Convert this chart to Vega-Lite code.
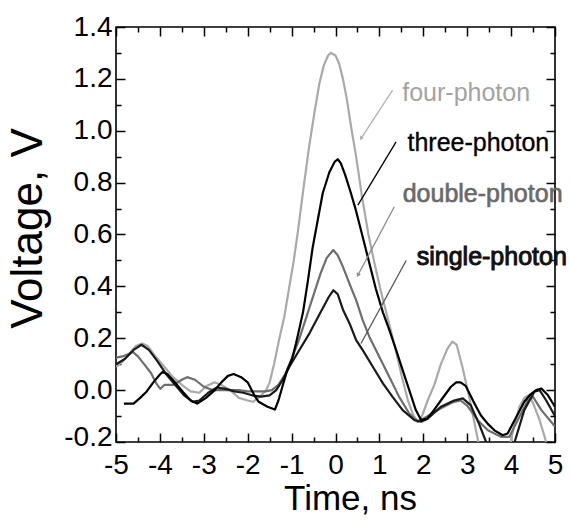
{
  "$schema": "https://vega.github.io/schema/vega-lite/v6.json",
  "width": 439,
  "height": 415,
  "autosize": {"type": "none"},
  "padding": {"left": 116, "top": 27, "right": 15, "bottom": 78},
  "background": "white",
  "view": {"stroke": "black", "strokeWidth": 1.6},
  "datasets": {
    "curves": [
      {"s":"four","t":-5,"v":0.09},{"s":"four","t":-4.85,"v":0.11},{"s":"four","t":-4.7,"v":0.14},{"s":"four","t":-4.55,"v":0.17},{"s":"four","t":-4.4,"v":0.18},{"s":"four","t":-4.28,"v":0.17},{"s":"four","t":-4.1,"v":0.13},{"s":"four","t":-3.9,"v":0.09},{"s":"four","t":-3.7,"v":0.05},{"s":"four","t":-3.5,"v":0.02},{"s":"four","t":-3.3,"v":-0.005},{"s":"four","t":-3.1,"v":-0.01},{"s":"four","t":-2.95,"v":0.015},{"s":"four","t":-2.75,"v":0.03},{"s":"four","t":-2.6,"v":0.02},{"s":"four","t":-2.4,"v":0.0},{"s":"four","t":-2.2,"v":-0.03},{"s":"four","t":-2.0,"v":-0.04},{"s":"four","t":-1.88,"v":-0.045},{"s":"four","t":-1.72,"v":-0.025},{"s":"four","t":-1.58,"v":0.0},{"s":"four","t":-1.5,"v":0.03},{"s":"four","t":-1.4,"v":0.1},{"s":"four","t":-1.29,"v":0.19},{"s":"four","t":-1.17,"v":0.28},{"s":"four","t":-1.05,"v":0.4},{"s":"four","t":-0.95,"v":0.5},{"s":"four","t":-0.85,"v":0.62},{"s":"four","t":-0.72,"v":0.79},{"s":"four","t":-0.6,"v":0.94},{"s":"four","t":-0.48,"v":1.07},{"s":"four","t":-0.37,"v":1.18},{"s":"four","t":-0.27,"v":1.25},{"s":"four","t":-0.17,"v":1.29},{"s":"four","t":-0.1,"v":1.3},{"s":"four","t":0.0,"v":1.29},{"s":"four","t":0.08,"v":1.26},{"s":"four","t":0.17,"v":1.2},{"s":"four","t":0.26,"v":1.12},{"s":"four","t":0.36,"v":1.01},{"s":"four","t":0.47,"v":0.9},{"s":"four","t":0.6,"v":0.75},{"s":"four","t":0.75,"v":0.6},{"s":"four","t":0.9,"v":0.48},{"s":"four","t":1.05,"v":0.37},{"s":"four","t":1.2,"v":0.27},{"s":"four","t":1.35,"v":0.17},{"s":"four","t":1.5,"v":0.06},{"s":"four","t":1.65,"v":-0.04},{"s":"four","t":1.78,"v":-0.1},{"s":"four","t":1.88,"v":-0.12},{"s":"four","t":1.97,"v":-0.1},{"s":"four","t":2.1,"v":-0.04},{"s":"four","t":2.25,"v":0.02},{"s":"four","t":2.4,"v":0.1},{"s":"four","t":2.55,"v":0.16},{"s":"four","t":2.66,"v":0.187},{"s":"four","t":2.76,"v":0.175},{"s":"four","t":2.89,"v":0.09},{"s":"four","t":3.05,"v":-0.03},{"s":"four","t":3.2,"v":-0.155},{"s":"four","t":3.3,"v":-0.24},{"s":"four","t":3.5,"v":-0.32},{"s":"four","t":3.8,"v":-0.32},{"s":"four","t":3.97,"v":-0.22},{"s":"four","t":4.05,"v":-0.15},{"s":"four","t":4.19,"v":-0.064},{"s":"four","t":4.3,"v":-0.03},{"s":"four","t":4.4,"v":-0.02},{"s":"four","t":4.5,"v":-0.05},{"s":"four","t":4.65,"v":-0.116},{"s":"four","t":4.8,"v":-0.2},{"s":"four","t":4.9,"v":-0.26},{"s":"four","t":5.0,"v":-0.3},

      {"s":"double","t":-5,"v":0.125},{"s":"double","t":-4.85,"v":0.13},{"s":"double","t":-4.7,"v":0.14},{"s":"double","t":-4.62,"v":0.148},{"s":"double","t":-4.5,"v":0.13},{"s":"double","t":-4.36,"v":0.1},{"s":"double","t":-4.2,"v":0.065},{"s":"double","t":-4.08,"v":0.025},{"s":"double","t":-3.99,"v":0.005},{"s":"double","t":-3.9,"v":0.02},{"s":"double","t":-3.7,"v":0.02},{"s":"double","t":-3.5,"v":0.04},{"s":"double","t":-3.38,"v":0.05},{"s":"double","t":-3.2,"v":0.04},{"s":"double","t":-3.0,"v":0.013},{"s":"double","t":-2.8,"v":0.0},{"s":"double","t":-2.5,"v":0.0},{"s":"double","t":-2.2,"v":0.0},{"s":"double","t":-2.0,"v":-0.005},{"s":"double","t":-1.8,"v":-0.005},{"s":"double","t":-1.6,"v":-0.005},{"s":"double","t":-1.45,"v":0.0},{"s":"double","t":-1.3,"v":0.02},{"s":"double","t":-1.15,"v":0.06},{"s":"double","t":-1.0,"v":0.12},{"s":"double","t":-0.84,"v":0.19},{"s":"double","t":-0.59,"v":0.32},{"s":"double","t":-0.34,"v":0.45},{"s":"double","t":-0.2,"v":0.51},{"s":"double","t":-0.05,"v":0.54},{"s":"double","t":0.05,"v":0.52},{"s":"double","t":0.17,"v":0.475},{"s":"double","t":0.32,"v":0.41},{"s":"double","t":0.47,"v":0.347},{"s":"double","t":0.62,"v":0.27},{"s":"double","t":0.77,"v":0.206},{"s":"double","t":1.0,"v":0.128},{"s":"double","t":1.23,"v":0.05},{"s":"double","t":1.45,"v":-0.026},{"s":"double","t":1.68,"v":-0.09},{"s":"double","t":1.87,"v":-0.122},{"s":"double","t":2.0,"v":-0.11},{"s":"double","t":2.2,"v":-0.09},{"s":"double","t":2.4,"v":-0.07},{"s":"double","t":2.7,"v":-0.045},{"s":"double","t":2.85,"v":-0.04},{"s":"double","t":3.0,"v":-0.06},{"s":"double","t":3.24,"v":-0.116},{"s":"double","t":3.47,"v":-0.155},{"s":"double","t":3.77,"v":-0.18},{"s":"double","t":3.96,"v":-0.18},{"s":"double","t":4.15,"v":-0.116},{"s":"double","t":4.38,"v":-0.04},{"s":"double","t":4.5,"v":-0.026},{"s":"double","t":4.69,"v":-0.077},{"s":"double","t":5.0,"v":-0.14},

      {"s":"single","t":-5,"v":0.1},{"s":"single","t":-4.8,"v":0.12},{"s":"single","t":-4.6,"v":0.155},{"s":"single","t":-4.42,"v":0.175},{"s":"single","t":-4.25,"v":0.155},{"s":"single","t":-4.05,"v":0.11},{"s":"single","t":-3.85,"v":0.06},{"s":"single","t":-3.65,"v":0.02},{"s":"single","t":-3.45,"v":-0.02},{"s":"single","t":-3.25,"v":-0.045},{"s":"single","t":-3.1,"v":-0.04},{"s":"single","t":-2.9,"v":-0.01},{"s":"single","t":-2.7,"v":0.01},{"s":"single","t":-2.5,"v":0.005},{"s":"single","t":-2.3,"v":-0.005},{"s":"single","t":-2.1,"v":-0.01},{"s":"single","t":-1.9,"v":-0.02},{"s":"single","t":-1.7,"v":-0.025},{"s":"single","t":-1.5,"v":-0.02},{"s":"single","t":-1.35,"v":0.0},{"s":"single","t":-1.2,"v":0.04},{"s":"single","t":-1.05,"v":0.09},{"s":"single","t":-0.84,"v":0.15},{"s":"single","t":-0.59,"v":0.22},{"s":"single","t":-0.34,"v":0.3},{"s":"single","t":-0.15,"v":0.36},{"s":"single","t":-0.05,"v":0.385},{"s":"single","t":0.05,"v":0.37},{"s":"single","t":0.17,"v":0.31},{"s":"single","t":0.32,"v":0.257},{"s":"single","t":0.47,"v":0.193},{"s":"single","t":0.62,"v":0.154},{"s":"single","t":0.85,"v":0.09},{"s":"single","t":1.08,"v":0.026},{"s":"single","t":1.3,"v":-0.026},{"s":"single","t":1.53,"v":-0.077},{"s":"single","t":1.8,"v":-0.116},{"s":"single","t":1.95,"v":-0.122},{"s":"single","t":2.1,"v":-0.11},{"s":"single","t":2.4,"v":-0.064},{"s":"single","t":2.7,"v":-0.04},{"s":"single","t":2.9,"v":-0.032},{"s":"single","t":3.08,"v":-0.058},{"s":"single","t":3.27,"v":-0.13},{"s":"single","t":3.43,"v":-0.2},{"s":"single","t":3.55,"v":-0.26},{"s":"single","t":3.9,"v":-0.27},{"s":"single","t":4.08,"v":-0.2},{"s":"single","t":4.3,"v":-0.077},{"s":"single","t":4.53,"v":-0.006},{"s":"single","t":4.65,"v":0.0},{"s":"single","t":4.8,"v":-0.04},{"s":"single","t":5.0,"v":-0.1},

      {"s":"three","t":-4.82,"v":-0.052},{"s":"three","t":-4.6,"v":-0.052},{"s":"three","t":-4.45,"v":-0.03},{"s":"three","t":-4.3,"v":-0.005},{"s":"three","t":-4.15,"v":0.03},{"s":"three","t":-4.0,"v":0.06},{"s":"three","t":-3.94,"v":0.07},{"s":"three","t":-3.83,"v":0.062},{"s":"three","t":-3.67,"v":0.032},{"s":"three","t":-3.48,"v":-0.006},{"s":"three","t":-3.3,"v":-0.04},{"s":"three","t":-3.15,"v":-0.052},{"s":"three","t":-2.95,"v":-0.03},{"s":"three","t":-2.75,"v":0.0},{"s":"three","t":-2.6,"v":0.03},{"s":"three","t":-2.45,"v":0.055},{"s":"three","t":-2.32,"v":0.062},{"s":"three","t":-2.15,"v":0.05},{"s":"three","t":-2.0,"v":0.03},{"s":"three","t":-1.85,"v":-0.02},{"s":"three","t":-1.75,"v":-0.045},{"s":"three","t":-1.55,"v":-0.064},{"s":"three","t":-1.38,"v":-0.075},{"s":"three","t":-1.3,"v":-0.04},{"s":"three","t":-1.21,"v":0.013},{"s":"three","t":-1.1,"v":0.077},{"s":"three","t":-0.99,"v":0.12},{"s":"three","t":-0.9,"v":0.18},{"s":"three","t":-0.82,"v":0.24},{"s":"three","t":-0.74,"v":0.3},{"s":"three","t":-0.63,"v":0.42},{"s":"three","t":-0.52,"v":0.55},{"s":"three","t":-0.4,"v":0.66},{"s":"three","t":-0.29,"v":0.76},{"s":"three","t":-0.14,"v":0.84},{"s":"three","t":-0.02,"v":0.88},{"s":"three","t":0.05,"v":0.89},{"s":"three","t":0.12,"v":0.875},{"s":"three","t":0.22,"v":0.83},{"s":"three","t":0.35,"v":0.76},{"s":"three","t":0.47,"v":0.69},{"s":"three","t":0.62,"v":0.59},{"s":"three","t":0.77,"v":0.49},{"s":"three","t":0.92,"v":0.39},{"s":"three","t":1.08,"v":0.3},{"s":"three","t":1.23,"v":0.23},{"s":"three","t":1.38,"v":0.155},{"s":"three","t":1.53,"v":0.077},{"s":"three","t":1.68,"v":0.0},{"s":"three","t":1.83,"v":-0.077},{"s":"three","t":1.95,"v":-0.115},{"s":"three","t":2.09,"v":-0.11},{"s":"three","t":2.25,"v":-0.075},{"s":"three","t":2.4,"v":-0.04},{"s":"three","t":2.63,"v":0.013},{"s":"three","t":2.75,"v":0.03},{"s":"three","t":2.85,"v":0.03},{"s":"three","t":2.97,"v":0.015},{"s":"three","t":3.16,"v":-0.05},{"s":"three","t":3.31,"v":-0.097},{"s":"three","t":3.47,"v":-0.13},{"s":"three","t":3.62,"v":-0.155},{"s":"three","t":3.81,"v":-0.174},{"s":"three","t":3.92,"v":-0.167},{"s":"three","t":4.08,"v":-0.116},{"s":"three","t":4.3,"v":-0.045},{"s":"three","t":4.45,"v":-0.015},{"s":"three","t":4.57,"v":0.0},{"s":"three","t":4.69,"v":0.006},{"s":"three","t":4.84,"v":-0.02},{"s":"three","t":5.0,"v":-0.064}
    ],
    "notes": [
      {"s":"four","label":"four-photon","tx":1.52,"ty":1.144,"x1":1.3,"y1":1.157,"x2":0.58,"y2":0.97},
      {"s":"three","label":"three-photon","tx":1.64,"ty":0.951,"x1":1.38,"y1":0.957,"x2":0.51,"y2":0.713},
      {"s":"double","label":"double-photon","tx":1.53,"ty":0.758,"x1":1.34,"y1":0.707,"x2":0.51,"y2":0.443},
      {"s":"single","label":"single-photon","tx":1.85,"ty":0.514,"x1":1.61,"y1":0.5,"x2":0.58,"y2":0.18}
    ]
  },
  "layer": [
    {
      "data": {"name": "curves"},
      "mark": {"type": "line", "clip": true, "strokeJoin": "round"},
      "encoding": {
        "x": {"field": "t", "type": "quantitative", "scale": {"domain": [-5, 5], "nice": false, "zero": false},
          "axis": {"orient": "bottom", "values": [-5,-4.5,-4,-3.5,-3,-2.5,-2,-1.5,-1,-0.5,0,0.5,1,1.5,2,2.5,3,3.5,4,4.5,5],
            "domain": false, "grid": false,
            "tickSize": {"condition": {"test": "round(datum.value*2) % 2 != 0", "value": -5}, "value": -9},
            "tickColor": "black", "tickWidth": 1.5,
            "labelExpr": "round(datum.value*2) % 2 == 0 ? replace(format(datum.value,'d'),'\u2212','-') : ''",
            "labelFont": "Liberation Sans", "labelFontSize": 28, "labelColor": "black", "labelPadding": 18,
            "labelFlush": false, "labelOverlap": false, "labelBound": false,
            "title": "Time, ns", "titleFont": "Liberation Sans", "titleFontSize": 35, "titleFontWeight": "normal", "titleColor": "black",
            "titleX": 234, "titleY": 39, "titleBaseline": "top"}},
        "y": {"field": "v", "type": "quantitative", "scale": {"domain": [-0.2, 1.4], "nice": false, "zero": false},
          "axis": {"orient": "left", "values": [-0.2,-0.1,0,0.1,0.2,0.3,0.4,0.5,0.6,0.7,0.8,0.9,1.0,1.1,1.2,1.3,1.4],
            "domain": false, "grid": false,
            "tickSize": {"condition": {"test": "round(datum.value*10) % 2 != 0", "value": -5}, "value": -9},
            "tickColor": "black", "tickWidth": 1.5,
            "labelExpr": "round(datum.value*10) % 2 == 0 ? replace(format(datum.value,'.1f'),'\u2212','-') : ''",
            "labelFont": "Liberation Sans", "labelFontSize": 28, "labelColor": "black", "labelPadding": 13,
            "labelOffset": {"condition": {"test": "datum.value < -0.15", "value": -5}, "value": 0},
            "labelFlush": false, "labelOverlap": false, "labelBound": false,
            "title": "Voltage, V", "titleFont": "Liberation Sans", "titleFontSize": 44, "titleFontWeight": "normal", "titleColor": "black",
            "titleX": -66, "titleY": 201}},
        "color": {"field": "s", "type": "nominal", "scale": {"domain": ["four","double","single","three"], "range": ["#a9a9a9","#6e6e6e","#1a1a1a","#000000"]}, "legend": null},
        "strokeWidth": {"field": "s", "type": "nominal", "scale": {"domain": ["four","double","single","three"], "range": [2.2,2.2,2.6,3.2]}, "legend": null}
      }
    },
    {
      "data": {"name": "notes"},
      "mark": {"type": "rule", "strokeWidth": 1.3},
      "encoding": {
        "x": {"field": "x1", "type": "quantitative", "scale": {"domain": [-5, 5], "nice": false, "zero": false},
          "axis": {"orient": "top", "values": [-5,-4.5,-4,-3.5,-3,-2.5,-2,-1.5,-1,-0.5,0,0.5,1,1.5,2,2.5,3,3.5,4,4.5,5],
            "domain": false, "grid": false, "labels": false, "title": null,
            "tickSize": {"condition": {"test": "round(datum.value*2) % 2 != 0", "value": -5}, "value": -9},
            "tickColor": "black", "tickWidth": 1.5}},
        "y": {"field": "y1", "type": "quantitative", "scale": {"domain": [-0.2, 1.4], "nice": false, "zero": false},
          "axis": {"orient": "right", "values": [-0.2,-0.1,0,0.1,0.2,0.3,0.4,0.5,0.6,0.7,0.8,0.9,1.0,1.1,1.2,1.3,1.4],
            "domain": false, "grid": false, "labels": false, "title": null,
            "tickSize": {"condition": {"test": "round(datum.value*10) % 2 != 0", "value": -5}, "value": -9},
            "tickColor": "black", "tickWidth": 1.5}},
        "x2": {"field": "x2"},
        "y2": {"field": "y2"},
        "color": {"field": "s", "type": "nominal", "scale": {"domain": ["four","three","double","single"], "range": ["#b0b0b0","#000000","#8a8a8a","#555555"]}, "legend": null}
      }
    },
    {
      "data": {"name": "notes"},
      "transform": [{"filter": "datum.s == 'four' || datum.s == 'double'"}],
      "mark": {"type": "point", "shape": "triangle-down", "filled": true, "size": 22, "opacity": 1},
      "encoding": {
        "x": {"field": "x2", "type": "quantitative", "scale": {"domain": [-5, 5], "nice": false, "zero": false}, "axis": null},
        "y": {"field": "y2", "type": "quantitative", "scale": {"domain": [-0.2, 1.4], "nice": false, "zero": false}, "axis": null},
        "angle": {"field": "s", "type": "nominal", "scale": {"domain": ["four","double"], "range": [33, 28]}, "legend": null},
        "color": {"field": "s", "type": "nominal", "scale": {"domain": ["four","double"], "range": ["#b0b0b0","#8a8a8a"]}, "legend": null}
      }
    },
    {
      "data": {"name": "notes"},
      "mark": {"type": "text", "align": "left", "baseline": "middle", "font": "Liberation Sans", "fontSize": 25},
      "encoding": {
        "x": {"field": "tx", "type": "quantitative", "scale": {"domain": [-5, 5], "nice": false, "zero": false}, "axis": null},
        "y": {"field": "ty", "type": "quantitative", "scale": {"domain": [-0.2, 1.4], "nice": false, "zero": false}, "axis": null},
        "text": {"field": "label"},
        "color": {"field": "s", "type": "nominal", "scale": {"domain": ["four","three","double","single"], "range": ["#a3a3a3","#000000","#6a6a6a","#111111"]}, "legend": null},
        "stroke": {"field": "s", "type": "nominal", "scale": {"domain": ["four","three","double","single"], "range": ["#a3a3a3","#000000","#6a6a6a","#111111"]}, "legend": null},
        "strokeWidth": {"field": "s", "type": "nominal", "scale": {"domain": ["four","three","double","single"], "range": [0, 1.0, 0, 0]}, "legend": null}
      }
    }
  ],
  "resolve": {
    "axis": {"x": "independent", "y": "independent"},
    "scale": {"color": "independent", "stroke": "independent", "strokeWidth": "independent", "angle": "independent"}
  }
}
